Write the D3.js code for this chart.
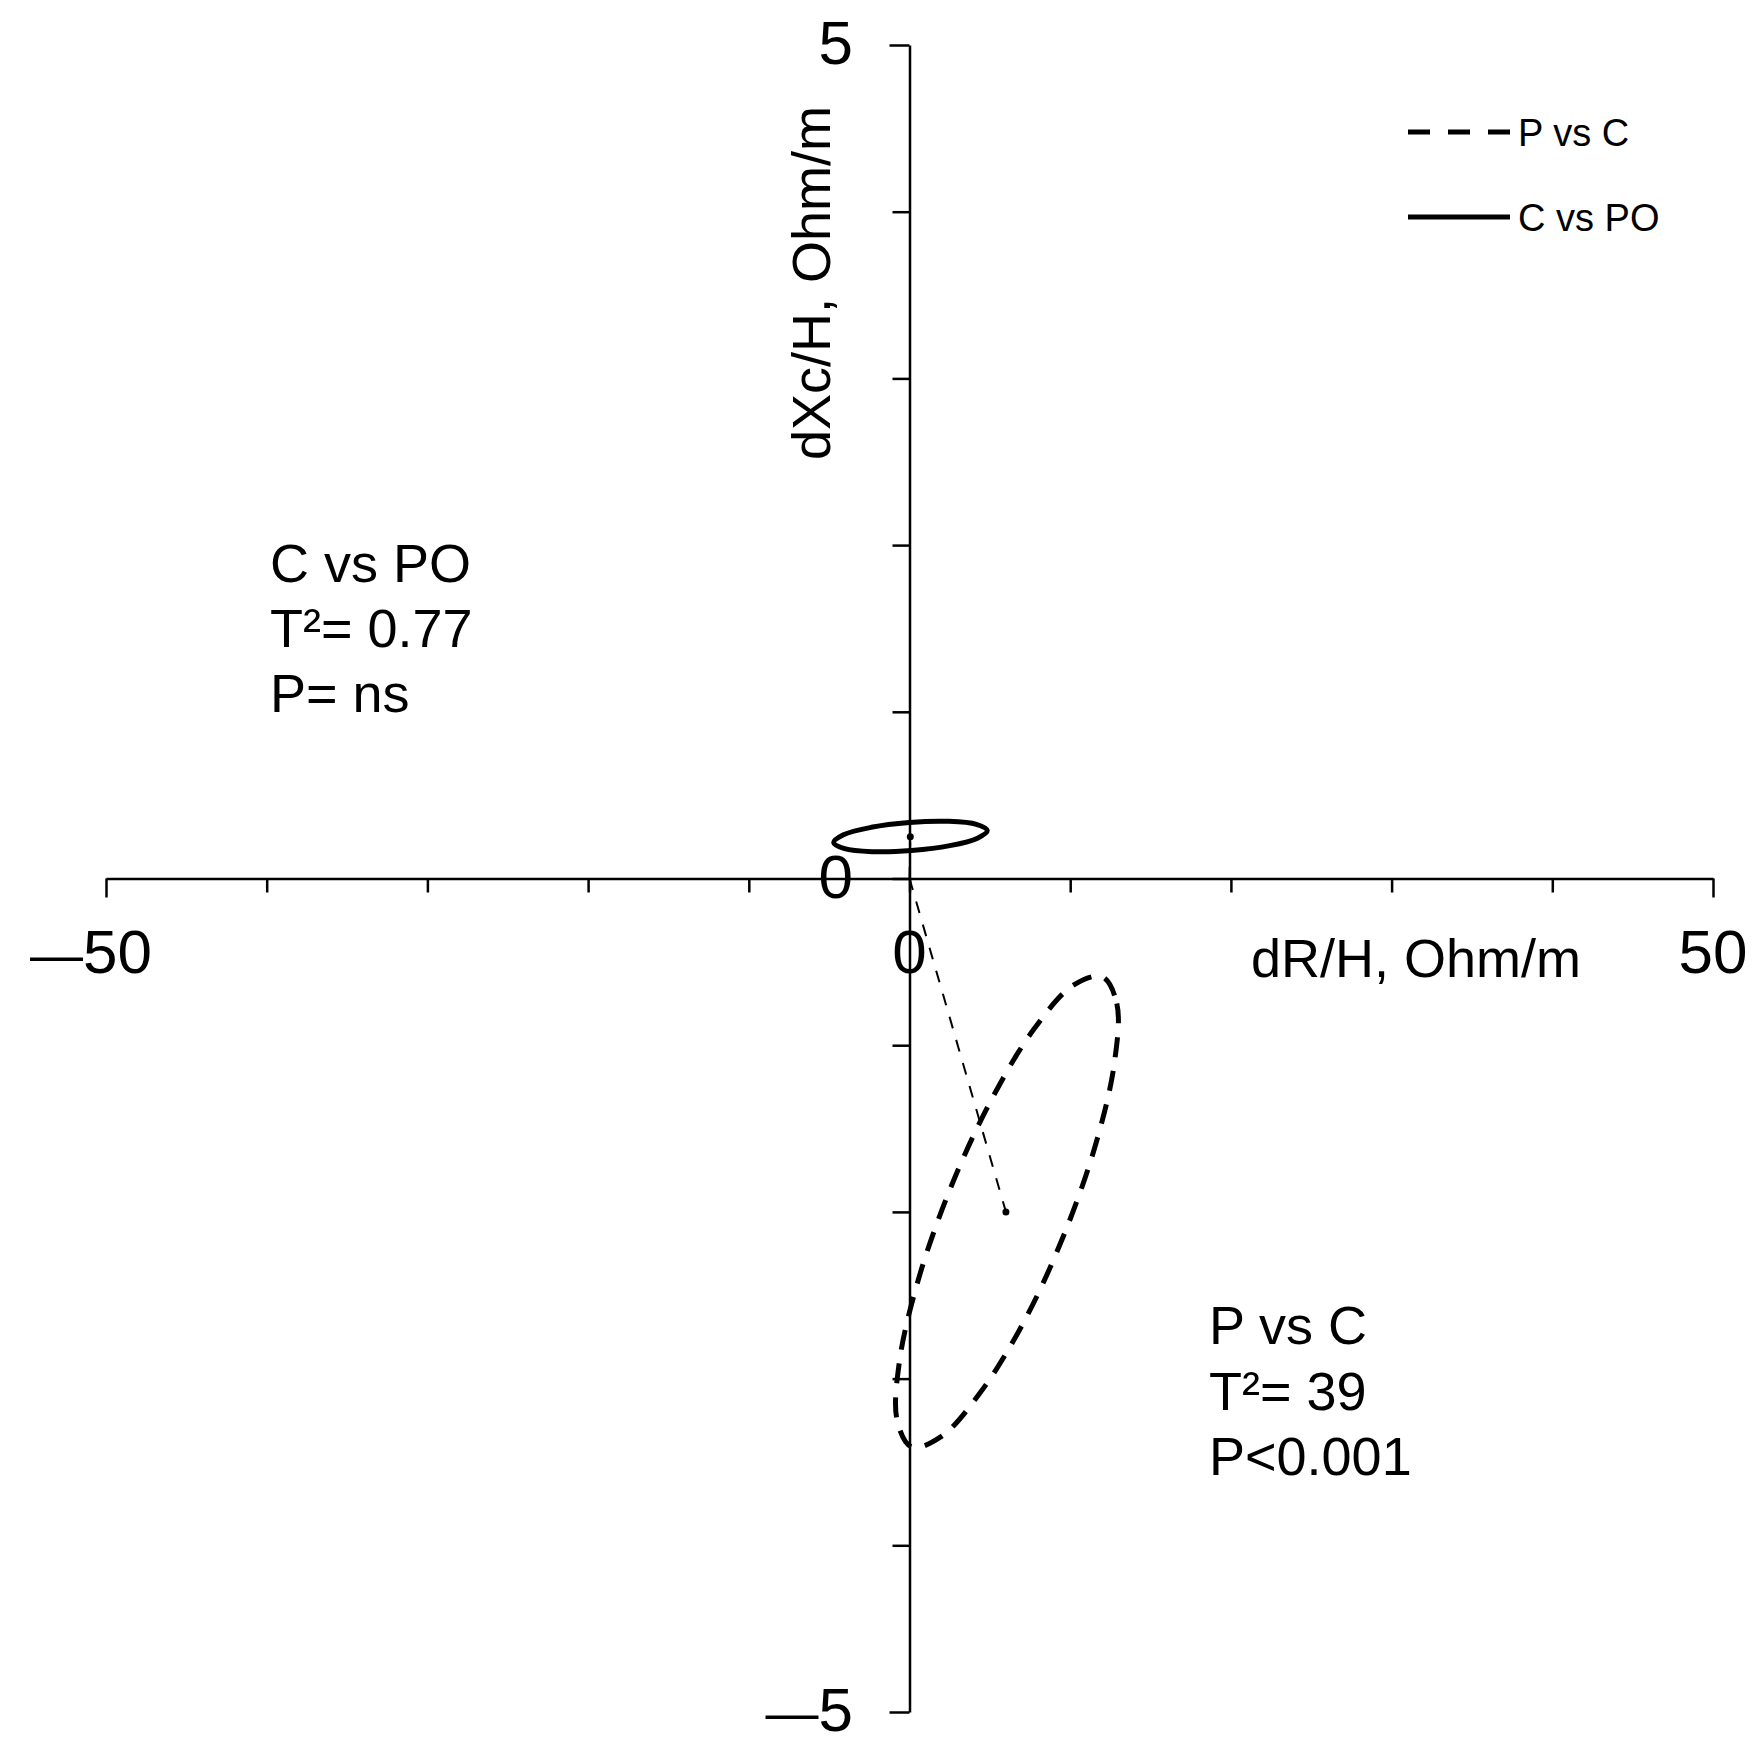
<html lang="en">
<head>
  <meta charset="UTF-8">
  <title>dR/H vs dXc/H</title>
  <style>
    body { margin: 0; background: #fff; }
    text { font-family: 'Liberation Sans', Arial, sans-serif; fill: #000; }
  </style>
</head>
<body>
  <div class="canvas"></div>

  <script src="https://cdnjs.cloudflare.com/ajax/libs/d3/7.8.5/d3.min.js"></script>
  <script>
// data (dR/H, dXc/H in Ohm/m)
const xTicks = [-50, -40, -30, -20, -10, 0, 10, 20, 30, 40, 50];
const yTicks = [-5, -4, -3, -2, -1, 0, 1, 2, 3, 4, 5];
const xTickLabels = [-50, 0, 50];
const yTickLabels = [-5, 0, 5];

// mean vectors
const meanPvsC = [6.0, -2.0];
const meanCvsPO = [0.05, 0.25];

// confidence ellipse outlines, traced points [dR, dXc]
const ellipsePvsC = [
  [12.00, -0.59], [12.90, -0.75], [12.76, -1.10], [11.60, -1.59],
  [9.60, -2.14], [7.06, -2.67], [4.36, -3.09], [1.94, -3.35],
  [0.13, -3.41], [-0.77, -3.25], [-0.63, -2.90], [0.54, -2.41],
  [2.54, -1.86], [5.08, -1.33], [7.77, -0.90], [10.20, -0.64]
];
const ellipseCvsPO = [
  [4.84, 0.288], [4.23, 0.242], [2.51, 0.197], [0.13, 0.168],
  [-2.27, 0.161], [-4.04, 0.179], [-4.72, 0.216], [-4.11, 0.262],
  [-2.38, 0.307], [-0.01, 0.336], [2.39, 0.343], [4.16, 0.325]
];

const legendNames = ['P vs C', 'C vs PO'];
const noteCvsPO = ['C vs PO', 'T\u00B2= 0.77', 'P= ns'];
const notePvsC = ['P vs C', 'T\u00B2= 39', 'P<0.001'];

const canvas = d3.select('.canvas');

const svg = canvas.append('svg')
  .attr('width', 1764)
  .attr('height', 1753);

const x = d3.scaleLinear().domain([-50, 50]).range([106, 1713]);
const y = d3.scaleLinear().domain([-5, 5]).range([1712, 45]);

const x0 = x(0), y0 = y(0);

// x axis through origin
const xAxis = svg.append('g')
  .attr('transform', `translate(0, ${y0})`)
  .call(d3.axisBottom(x).tickValues(xTicks).tickSize(14).tickFormat('').tickSizeOuter(0));
xAxis.select('.domain').attr('stroke-width', 2.5);
xAxis.selectAll('.tick line')
  .attr('stroke-width', 2.5)
  .attr('y2', d => (d === -50 || d === 50) ? 19 : 14);

// y axis through origin
const yAxis = svg.append('g')
  .attr('transform', `translate(${x0}, 0)`)
  .call(d3.axisLeft(y).tickValues(yTicks).tickSize(17).tickFormat('').tickSizeOuter(0));
yAxis.select('.domain').attr('stroke-width', 2.5);
yAxis.selectAll('.tick line')
  .attr('stroke-width', 2.5)
  .attr('x2', d => (d === -5 || d === 5) ? -20 : -17);

// tick labels, minus drawn as a long dash
function dashLabel(d) {
  const t = d3.select(this);
  if (d < 0) {
    t.append('tspan').style('font-size', '53px').text('\u2014');
    t.append('tspan').text(Math.abs(d));
  } else {
    t.text(d);
  }
}

svg.append('g').selectAll('text')
  .data(xTickLabels)
  .join('text')
  .attr('x', d => x(d) + (d < 0 ? -15 : 0))
  .attr('y', 973)
  .attr('text-anchor', 'middle')
  .style('font-size', '62px')
  .each(dashLabel);

svg.append('g').selectAll('text')
  .data(yTickLabels)
  .join('text')
  .attr('x', 853)
  .attr('y', d => y(d) + 19)
  .attr('text-anchor', 'end')
  .style('font-size', '62px')
  .each(dashLabel);

// axis titles
svg.append('text')
  .attr('x', 1251)
  .attr('y', 977)
  .style('font-size', '54px')
  .text('dR/H, Ohm/m');

svg.append('text')
  .attr('transform', 'translate(830, 283) rotate(-90)')
  .attr('text-anchor', 'middle')
  .style('font-size', '54px')
  .text('dXc/H, Ohm/m');

// ellipses
const line = d3.line()
  .x(d => x(d[0]))
  .y(d => y(d[1]))
  .curve(d3.curveCatmullRomClosed);

svg.append('path')
  .attr('d', line(ellipsePvsC))
  .attr('fill', 'none')
  .attr('stroke', '#000')
  .attr('stroke-width', 5)
  .attr('stroke-dasharray', '20,14');

svg.append('path')
  .attr('d', line(ellipseCvsPO))
  .attr('fill', 'none')
  .attr('stroke', '#000')
  .attr('stroke-width', 5);

// mean vectors from origin
[meanPvsC, meanCvsPO].forEach(m => {
  svg.append('line')
    .attr('x1', x0).attr('y1', y0)
    .attr('x2', x(m[0])).attr('y2', y(m[1]))
    .attr('stroke', '#000')
    .attr('stroke-width', 2)
    .attr('stroke-dasharray', '12,12');
  svg.append('circle')
    .attr('cx', x(m[0])).attr('cy', y(m[1]))
    .attr('r', 3.5)
    .attr('fill', '#000');
});

// legend
const legend = svg.append('g');
legendNames.forEach((name, i) => {
  const ly = 132 + i * 85;
  legend.append('line')
    .attr('x1', 1408).attr('x2', 1510)
    .attr('y1', ly).attr('y2', ly)
    .attr('stroke', '#000')
    .attr('stroke-width', 5)
    .attr('stroke-dasharray', i === 0 ? '22,18' : null);
  legend.append('text')
    .attr('x', 1518)
    .attr('y', ly + 13.5)
    .style('font-size', '38px')
    .text(name);
});

// annotations
svg.append('g').selectAll('text')
  .data(noteCvsPO)
  .join('text')
  .attr('x', 270)
  .attr('y', (d, i) => 582 + i * 65)
  .style('font-size', '54px')
  .text(d => d);

svg.append('g').selectAll('text')
  .data(notePvsC)
  .join('text')
  .attr('x', 1209)
  .attr('y', (d, i) => 1344 + i * 65.5)
  .style('font-size', '54px')
  .text(d => d);
  </script>
</body>
</html>
